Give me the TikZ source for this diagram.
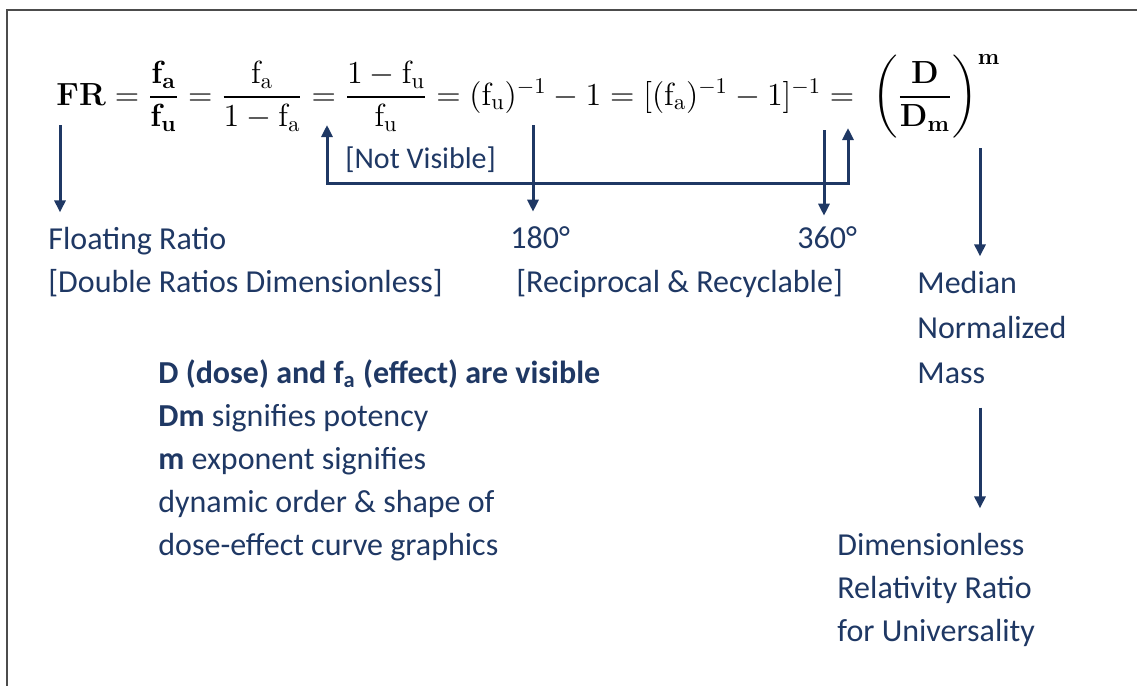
\RequirePackage{fix-cm}
\documentclass[tikz,border=0pt]{standalone}
\usepackage{amsmath}
\usepackage[no-math]{fontspec}
\setmainfont{Carlito}
\usepackage{tikz}
\usetikzlibrary{arrows.meta, positioning, calc}
\definecolor{navy}{RGB}{31,56,100}

\begin{document}
\begin{tikzpicture}[
    x=0.5pt, y=-0.5pt,
    txt/.style={inner sep=0pt, anchor=base west, align=left, text=navy, font=\fontsize{16}{21.5}\selectfont},
    arr/.style={-{Triangle[length=6pt, width=5.5pt]}, line width=1.5pt, draw=navy},
    arrboth/.style={{Triangle[length=6pt, width=5.5pt]}-{Triangle[length=6pt, width=5.5pt]}, line width=1.5pt, draw=navy},
]
\useasboundingbox (0,0) rectangle (1137,686);
\draw[line width=1.2pt, black!70] (7,686) -- (7,10) -- (1137,10);

% the equation
\node[anchor=base west, inner sep=0pt, font=\fontsize{16}{20}\selectfont] (eq) at (56,105)
  {$\mathbf{FR} = \dfrac{\mathbf{f_a}}{\mathbf{f_u}} = \dfrac{\mathrm{f_a}}{1-\mathrm{f_a}}
   = \dfrac{1-\mathrm{f_u}}{\mathrm{f_u}} = (\mathrm{f_u})^{-1} - 1
   = [(\mathrm{f_a})^{-1} - 1]^{-1} = \;\left(\dfrac{\mathbf{D}}{\mathbf{D_m}}\right)^{\mathbf{m}}$};

% labels (base = last line)
\node[txt] (floating) at (48,292) {Floating Ratio\\{[}Double Ratios Dimensionless]};
\node[txt] (deg180) at (510,248) {180°};
\node[txt] (recip) at (516,292) {[Reciprocal \& Recyclable]};
\node[txt] (deg360) at (797,248) {360°};
\node[txt, font=\fontsize{15}{18}\selectfont] (notvis) at (345,168) {[Not Visible]};
\node[txt, font=\fontsize{16}{22.5}\selectfont] (median) at (917,383) {Median\\Normalized\\Mass};
\node[txt] (visible) at (158,555) {\textbf{D (dose) and f\textsubscript{a} (effect) are visible}\\
  \textbf{Dm} signifies potency\\\textbf{m} exponent signifies\\
  dynamic order \& shape of\\dose-effect curve graphics};
\node[txt] (dimless) at (837,641) {Dimensionless\\Relativity Ratio\\for Universality};

% arrows
\coordinate (frfoot) at (60,125);
\coordinate (nvleft) at (327,125);
\coordinate (nvbase) at (848,183);
\coordinate (nvright) at (848,128);
\coordinate (inv180) at (533,125);
\coordinate (inv360) at (824,130);
\coordinate (dmfoot) at (980,148);

\draw[arr, shorten >=7pt] (frfoot) -- (frfoot |- floating.north);
\draw[arrboth] (nvleft) |- (nvbase) -- (nvright);
\draw[arr, shorten >=7pt] (inv180) -- (inv180 |- deg180.north);
\draw[arr, shorten >=5pt] (inv360) -- (inv360 |- deg360.north);
\draw[arr, shorten >=7pt] (dmfoot) -- (dmfoot |- median.north);
\draw[arr, shorten <=12pt, shorten >=12pt] (median.south -| dmfoot) -- (dmfoot |- dimless.north);

\end{tikzpicture}
\end{document}
